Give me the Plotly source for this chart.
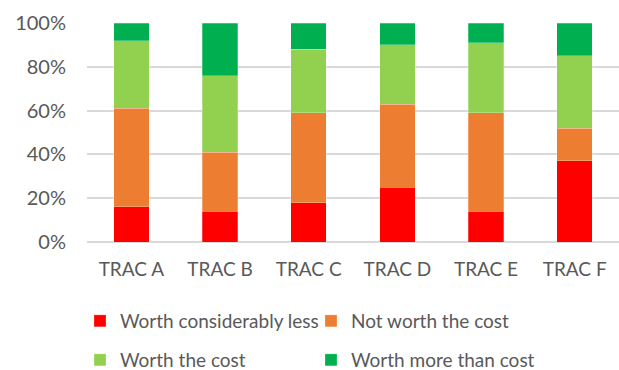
import plotly.graph_objects as go

categories = ["TRAC A", "TRAC B", "TRAC C", "TRAC D", "TRAC E", "TRAC F"]
worth_considerably_less = [16, 14, 18, 25, 14, 37]
not_worth_the_cost = [45, 27, 41, 38, 45, 15]
worth_the_cost = [31, 35, 29, 27, 32, 33]
worth_more_than_cost = [8, 24, 12, 10, 9, 15]

series = [
    ("Worth considerably less", worth_considerably_less, "#FF0000", "legend"),
    ("Not worth the cost", not_worth_the_cost, "#ED7D31", "legend"),
    ("Worth the cost", worth_the_cost, "#92D050", "legend2"),
    ("Worth more than cost", worth_more_than_cost, "#00B050", "legend2"),
]

TEXT = "#595959"
FONT = "Lato, 'Open Sans', sans-serif"

fig = go.Figure()
for name, vals, color, leg in series:
    fig.add_trace(go.Bar(
        x=categories,
        y=[v / 100 for v in vals],
        name=name,
        marker=dict(color=color, line=dict(color="rgba(255,255,255,0.5)", width=0.5)),
        legend=leg,
    ))

legend_common = dict(
    orientation="h",
    traceorder="normal",
    xref="container",
    yref="container",
    xanchor="left",
    yanchor="middle",
    entrywidth=186,
    entrywidthmode="pixels",
    font=dict(family=FONT, size=19, color=TEXT),
    bgcolor="rgba(0,0,0,0)",
    itemclick=False,
)

fig.update_layout(
    barmode="stack",
    bargap=0.6,
    width=619,
    height=370,
    margin=dict(l=87, r=0, t=23, b=128, autoexpand=False),
    paper_bgcolor="white",
    plot_bgcolor="white",
    font=dict(family=FONT, color=TEXT, size=19),
    xaxis=dict(
        showgrid=False,
        showline=False,
        ticks="",
        ticklabelstandoff=14,
        tickfont=dict(family=FONT, size=19, color=TEXT),
    ),
    yaxis=dict(
        range=[0, 1],
        tickvals=[0, 0.2, 0.4, 0.6, 0.8, 1.0],
        tickformat=".0%",
        showgrid=True,
        gridcolor="#D9D9D9",
        gridwidth=1.5,
        zeroline=True,
        zerolinecolor="#D9D9D9",
        zerolinewidth=1.5,
        showline=False,
        ticks="",
        ticklen=0,
        ticklabelstandoff=20,
        tickfont=dict(family=FONT, size=20, color=TEXT),
    ),
    legend=dict(x=80 / 619, y=1 - 321 / 370, **legend_common),
    legend2=dict(x=80 / 619, y=1 - 360 / 370, **legend_common),
    showlegend=True,
)

fig.write_html("out.html")
